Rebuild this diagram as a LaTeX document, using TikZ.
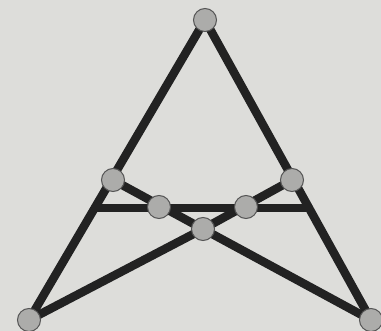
\documentclass[tikz,border=0pt]{standalone}
\usepackage{tikz}
\usetikzlibrary{calc}

\definecolor{paper}{RGB}{221,221,218}
\definecolor{bar}{RGB}{34,34,34}
\definecolor{ball}{RGB}{172,172,170}
\definecolor{rim}{RGB}{85,85,85}

\tikzset{
  rod/.style={line width=8.5pt, color=bar},
  joint/.style={circle, draw=rim, line width=1pt, fill=ball, minimum size=23pt, inner sep=0pt}
}

\begin{document}
\begin{tikzpicture}[x=1pt, y=-1pt]
    % 背景
    \fill[paper] (0, 0) rectangle (381, 331);
    \useasboundingbox (0, 0) rectangle (381, 331);

    % 顶点与内部点
    \coordinate (top) at (205, 20);
    \coordinate (bl) at (29, 320);
    \coordinate (br) at (371, 320);
    \coordinate (ml) at (113, 180);
    \coordinate (mr) at (292, 180);
    \coordinate (il) at (159, 207);
    \coordinate (ir) at (246, 207);
    \coordinate (mid) at (203, 229);
    \coordinate (sl) at ($(top)!0.627!(bl)$);
    \coordinate (sr) at ($(top)!0.627!(br)$);

    % 三角形两边
    \draw[rod] (top) -- (bl);
    \draw[rod] (top) -- (br);

    % 横杆
    \draw[rod] (sl) -- (sr);

    % 交叉杆
    \draw[rod] (ml) -- (mid) -- (mr);
    \draw[rod] (bl) -- (mid) -- (br);

    % 节点
    \foreach \p in {top, bl, br, ml, mr, il, ir, mid}
        \node[joint] (\p-j) at (\p) {};
\end{tikzpicture}
\end{document}
